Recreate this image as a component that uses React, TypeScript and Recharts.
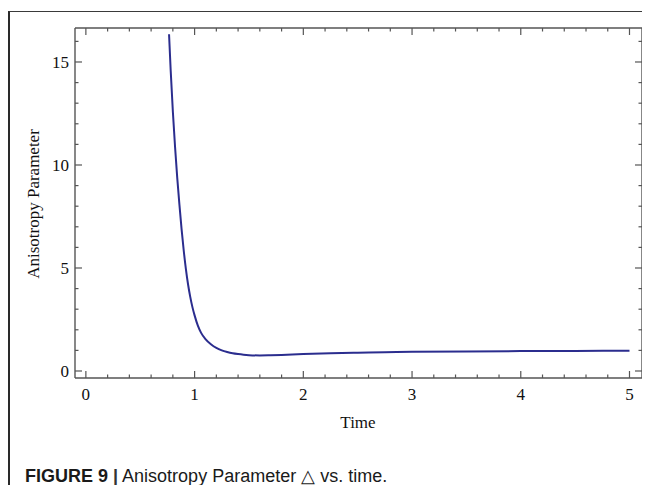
import React from "react";
import { LineChart, Line, XAxis, YAxis } from "recharts";

const timeValues = [0.765, 0.78, 0.8, 0.82, 0.84, 0.86, 0.88, 0.9, 0.92, 0.94, 0.96, 0.98, 1.0, 1.03, 1.06, 1.1, 1.15, 1.2, 1.25, 1.3, 1.35, 1.4, 1.45, 1.5, 1.6, 1.7, 1.8, 2.0, 2.25, 2.5, 2.75, 3.0, 3.5, 4.0, 4.5, 5.0];
const anisotropyValues = [16.35, 14.6, 12.6, 10.9, 9.4, 8.1, 6.9, 5.85, 4.95, 4.2, 3.6, 3.1, 2.7, 2.2, 1.85, 1.55, 1.3, 1.12, 1.0, 0.92, 0.86, 0.82, 0.79, 0.77, 0.755, 0.765, 0.78, 0.82, 0.86, 0.89, 0.91, 0.93, 0.95, 0.965, 0.975, 0.985];

const xTicks = [0, 0.2, 0.4, 0.6, 0.8, 1, 1.2, 1.4, 1.6, 1.8, 2, 2.2, 2.4, 2.6, 2.8, 3, 3.2, 3.4, 3.6, 3.8, 4, 4.2, 4.4, 4.6, 4.8, 5];
const yTicks = [0, 1, 2, 3, 4, 5, 6, 7, 8, 9, 10, 11, 12, 13, 14, 15, 16];
const xLabels = [0, 1, 2, 3, 4, 5];
const yLabels = [0, 5, 10, 15];

const data = timeValues.map((t, i) => ({ t, d: anisotropyValues[i] }));

const isMajor = (v: number, list: number[]) => list.some((m) => Math.abs(m - v) < 1e-6);
const TICK_COLOR = "#555";
const SERIF = "'Liberation Serif', 'Times New Roman', serif";

const BottomTick = (p: any) => {
  const major = isMajor(p.payload.value, xLabels);
  return (
    <g>
      <line x1={p.x} y1={p.y} x2={p.x} y2={p.y - (major ? 7 : 3.5)} stroke={TICK_COLOR} strokeWidth={1.2} />
      {major && (
        <text x={p.x} y={p.y + 22} textAnchor="middle" fontFamily={SERIF} fontSize={17} fill="#111">
          {p.payload.value}
        </text>
      )}
    </g>
  );
};
const TopTick = (p: any) => {
  const major = isMajor(p.payload.value, xLabels);
  return <line x1={p.x} y1={p.y} x2={p.x} y2={p.y + (major ? 7 : 3.5)} stroke={TICK_COLOR} strokeWidth={1.2} />;
};
const LeftTick = (p: any) => {
  const major = isMajor(p.payload.value, yLabels);
  return (
    <g>
      <line x1={p.x} y1={p.y} x2={p.x + (major ? 7 : 3.5)} y2={p.y} stroke={TICK_COLOR} strokeWidth={1.2} />
      {major && (
        <text x={p.x - 6} y={p.y + 6} textAnchor="end" fontFamily={SERIF} fontSize={17} fill="#111">
          {p.payload.value}
        </text>
      )}
    </g>
  );
};
const RightTick = (p: any) => {
  const major = isMajor(p.payload.value, yLabels);
  return <line x1={p.x} y1={p.y} x2={p.x - (major ? 7 : 3.5)} y2={p.y} stroke={TICK_COLOR} strokeWidth={1.2} />;
};

const X_DOMAIN: [number, number] = [-0.1, 5.115];
const Y_DOMAIN: [number, number] = [-0.34, 16.65];

export default function App() {
  return (
    <div style={{ position: "relative", width: 642, height: 485, marginBottom: -8 }}>
      <div
        style={{
          position: "absolute",
          left: 0,
          top: 3,
          width: 642,
          height: 482,
          borderTop: "1.5px solid #3a3a3a",
          borderLeft: "2px solid #2a2a2a",
          boxSizing: "border-box",
        }}
      />
      <div style={{ position: "absolute", left: 0, top: 0 }}>
        <LineChart width={642} height={440} data={data} margin={{ top: 19, right: 7, left: 7, bottom: 10 }}>
          <XAxis
            dataKey="t"
            type="number"
            domain={X_DOMAIN}
            allowDataOverflow
            ticks={xTicks}
            interval={0}
            height={60}
            tickSize={0}
            tickMargin={0}
            tickLine={false}
            axisLine={{ stroke: TICK_COLOR, strokeWidth: 1.4 }}
            tick={<BottomTick />}
          />
          <XAxis
            xAxisId="top"
            dataKey="t"
            orientation="top"
            type="number"
            domain={X_DOMAIN}
            allowDataOverflow
            ticks={xTicks}
            interval={0}
            height={1}
            tickSize={0}
            tickMargin={0}
            tickLine={false}
            axisLine={{ stroke: TICK_COLOR, strokeWidth: 1.4 }}
            tick={<TopTick />}
          />
          <YAxis
            type="number"
            domain={Y_DOMAIN}
            allowDataOverflow
            ticks={yTicks}
            interval={0}
            width={60}
            tickSize={0}
            tickMargin={0}
            tickLine={false}
            axisLine={{ stroke: TICK_COLOR, strokeWidth: 1.4 }}
            tick={<LeftTick />}
          />
          <YAxis
            yAxisId="right"
            dataKey="d"
            orientation="right"
            type="number"
            domain={Y_DOMAIN}
            allowDataOverflow
            ticks={yTicks}
            interval={0}
            width={1}
            tickSize={0}
            tickMargin={0}
            tickLine={false}
            axisLine={{ stroke: TICK_COLOR, strokeWidth: 1.4 }}
            tick={<RightTick />}
          />
          <Line
            type="monotone"
            dataKey="d"
            stroke="#2b2d8e"
            strokeWidth={2}
            dot={false}
            isAnimationActive={false}
          />
        </LineChart>
      </div>
      <div
        style={{
          position: "absolute",
          left: 350,
          top: 415,
          transform: "translate(-50%, -50%)",
          fontFamily: SERIF,
          fontSize: 17,
          color: "#111",
          whiteSpace: "nowrap",
        }}
      >
        Time
      </div>
      <div
        style={{
          position: "absolute",
          left: 26,
          top: 196,
          transform: "translate(-50%, -50%) rotate(-90deg)",
          fontFamily: SERIF,
          fontSize: 17,
          color: "#111",
          whiteSpace: "nowrap",
        }}
      >
        Anisotropy Parameter
      </div>
      <div
        style={{
          position: "absolute",
          left: 17,
          top: 457,
          lineHeight: "22px",
          fontFamily: "'Liberation Sans', Arial, sans-serif",
          fontSize: 18,
          color: "#1a1a1a",
          whiteSpace: "nowrap",
        }}
      >
        <b>FIGURE 9</b> <span style={{ color: "#333", fontWeight: 700 }}>|</span> Anisotropy Parameter △ vs. time.
      </div>
    </div>
  );
}
